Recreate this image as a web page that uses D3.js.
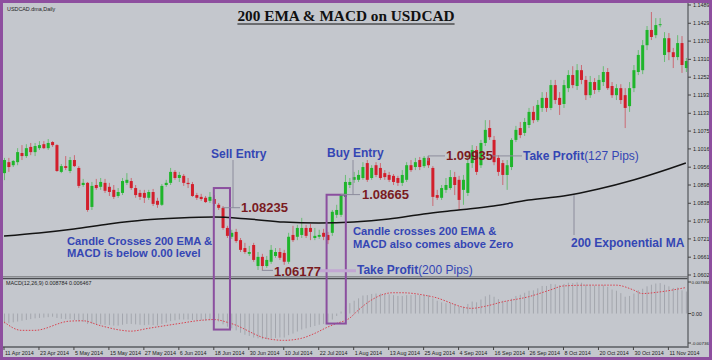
<!DOCTYPE html>
<html><head><meta charset="utf-8">
<script src="https://cdn.jsdelivr.net/npm/d3@7/dist/d3.min.js"></script>
<style>body{margin:0;background:#c4c7cd}svg{display:block}</style>
</head><body><svg id="c" width="712" height="360"></svg>
<script>
// ---------- DATA ----------
const dateLabels = ["11 Apr 2014","23 Apr 2014","5 May 2014","15 May 2014","27 May 2014","6 Jun 2014","18 Jun 2014","30 Jun 2014","10 Jul 2014","22 Jul 2014","1 Aug 2014","13 Aug 2014","25 Aug 2014","4 Sep 2014","16 Sep 2014","26 Sep 2014","8 Oct 2014","20 Oct 2014","30 Oct 2014","11 Nov 2014"];
const dateLabelEvery = 8; // one label per 8 trading days
const priceTicks = [1.14890,1.14290,1.13705,1.13105,1.12520,1.11935,1.11335,1.10750,1.10165,1.09565,1.08980,1.08380,1.07795,1.07210,1.06610,1.06025];
const macdTicks = [["0.007884",0.007884],["0.00",0],["-0.00736",-0.00736]];

const open = [
1.0937,1.0973,1.0963,1.0973,1.1003,1.0993,1.1023,1.1006,1.1019,1.1032,
1.1019,1.1039,1.1029,1.0941,1.0960,1.0944,1.0980,1.0954,1.0898,1.0905,
1.0826,1.0898,1.0892,1.0905,1.0892,1.0882,1.0862,1.0872,1.0905,1.0911,
1.0888,1.0872,1.0872,1.0856,1.0875,1.0846,1.0833,1.0898,1.0905,1.0941,
1.0921,1.0928,1.0905,1.0901,1.0865,1.0859,1.0856,1.0846,1.0852,1.0833,
1.0823,1.0757,1.0728,1.0744,1.0717,1.0691,1.0672,1.0701,1.0632,1.0662,
1.0632,1.0646,1.0665,1.0678,1.0675,1.0646,1.0734,1.0728,1.0734,1.0757,
1.0757,1.0724,1.0728,1.0741,1.0734,1.0741,1.0800,1.0800,1.0859,1.0898,
1.0915,1.0915,1.0921,1.0970,1.0921,1.0963,1.0954,1.0937,1.0931,1.0928,
1.0921,1.0905,1.0915,1.0963,1.0957,1.0980,1.0960,1.0987,1.0954,1.0865,
1.0856,1.0882,1.0888,1.0924,1.0915,1.0882,1.0872,1.0970,1.1013,1.0963,
1.1036,1.1085,1.1046,1.0987,1.0970,1.0931,1.0957,1.1046,1.1085,1.1069,
1.1095,1.1138,1.1111,1.1151,1.1184,1.1151,1.1226,1.1184,1.1164,1.1216,
1.1259,1.1223,1.1275,1.1243,1.1193,1.1236,1.1210,1.1236,1.1269,1.1223,
1.1193,1.1216,1.1193,1.1157,1.1216,1.1269,1.1275,1.1357,1.1407,1.1390,
1.1423,1.1325,1.1380,1.1334,1.1318,1.1364,1.1282];
const high = [
1.0987,1.0987,1.0980,1.1019,1.1029,1.1032,1.1036,1.1036,1.1042,1.1042,
1.1049,1.1042,1.1032,1.0967,1.0993,1.0990,1.0996,1.0960,1.0918,1.0908,
1.0908,1.0918,1.0921,1.0918,1.0905,1.0898,1.0888,1.0921,1.0937,1.0921,
1.0898,1.0882,1.0882,1.0882,1.0885,1.0856,1.0901,1.0915,1.0954,1.0947,
1.0941,1.0934,1.0921,1.0908,1.0872,1.0869,1.0862,1.0875,1.0865,1.0839,
1.0829,1.0764,1.0751,1.0754,1.0724,1.0708,1.0698,1.0708,1.0678,1.0672,
1.0665,1.0701,1.0691,1.0691,1.0685,1.0741,1.0764,1.0767,1.0790,1.0767,
1.0770,1.0757,1.0751,1.0754,1.0744,1.0816,1.0833,1.0869,1.0931,1.0921,
1.0941,1.0947,1.0973,1.0980,1.0963,1.0973,1.0970,1.0947,1.0941,1.0934,
1.0928,1.0947,1.0973,1.0980,1.0987,1.0990,1.0993,1.0993,1.0960,1.0882,
1.0898,1.0921,1.0947,1.0941,1.0928,1.0931,1.0996,1.1029,1.1026,1.1046,
1.1111,1.1111,1.1059,1.0996,1.0980,1.0980,1.1052,1.1092,1.1105,1.1118,
1.1151,1.1157,1.1177,1.1203,1.1203,1.1243,1.1243,1.1203,1.1243,1.1275,
1.1288,1.1295,1.1292,1.1256,1.1256,1.1249,1.1259,1.1288,1.1282,1.1236,
1.1229,1.1229,1.1216,1.1236,1.1292,1.1341,1.1374,1.1420,1.1466,1.1446,
1.1446,1.1400,1.1397,1.1348,1.1390,1.1387,1.1315];
const low = [
1.0914,1.0941,1.0957,1.0963,1.0980,1.0987,1.0996,1.0993,1.1013,1.1016,
1.1013,1.1023,1.0941,1.0937,1.0947,1.0937,1.0957,1.0888,1.0892,1.0810,
1.0816,1.0882,1.0882,1.0872,1.0862,1.0852,1.0856,1.0865,1.0898,1.0882,
1.0856,1.0849,1.0839,1.0849,1.0829,1.0823,1.0829,1.0892,1.0898,1.0915,
1.0908,1.0895,1.0888,1.0859,1.0849,1.0846,1.0839,1.0839,1.0829,1.0816,
1.0751,1.0724,1.0721,1.0708,1.0678,1.0672,1.0665,1.0646,1.0619,1.0618,
1.0626,1.0639,1.0659,1.0652,1.0636,1.0639,1.0711,1.0717,1.0724,1.0724,
1.0717,1.0717,1.0721,1.0717,1.0704,1.0731,1.0790,1.0793,1.0852,1.0888,
1.0905,1.0908,1.0915,1.0908,1.0915,1.0924,1.0915,1.0915,1.0908,1.0898,
1.0895,1.0895,1.0908,1.0941,1.0947,1.0947,1.0954,1.0954,1.0829,1.0849,
1.0849,1.0872,1.0882,1.0865,1.0816,1.0833,1.0862,1.0954,1.0931,1.0954,
1.1026,1.1046,1.0963,1.0928,1.0898,1.0882,1.0947,1.1039,1.1052,1.1059,
1.1085,1.1101,1.1105,1.1138,1.1138,1.1144,1.1164,1.1128,1.1151,1.1203,
1.1216,1.1210,1.1229,1.1177,1.1184,1.1197,1.1203,1.1223,1.1210,1.1184,
1.1177,1.1164,1.1085,1.1138,1.1203,1.1259,1.1262,1.1341,1.1374,1.1380,
1.1416,1.1302,1.1308,1.1282,1.1308,1.1266,1.1269];
const close = [
1.0980,1.0957,1.0977,1.1006,1.0993,1.1019,1.1006,1.1026,1.1029,1.1019,
1.1036,1.1029,1.0944,1.0960,1.0954,1.0980,1.0960,1.0895,1.0905,1.0816,
1.0895,1.0888,1.0908,1.0879,1.0875,1.0859,1.0875,1.0911,1.0915,1.0888,
1.0865,1.0859,1.0856,1.0875,1.0836,1.0833,1.0895,1.0905,1.0941,1.0921,
1.0931,1.0905,1.0901,1.0862,1.0856,1.0852,1.0842,1.0859,1.0836,1.0823,
1.0757,1.0731,1.0741,1.0714,1.0685,1.0678,1.0678,1.0652,1.0662,1.0632,
1.0652,1.0685,1.0678,1.0659,1.0646,1.0728,1.0717,1.0757,1.0757,1.0731,
1.0744,1.0731,1.0734,1.0728,1.0717,1.0810,1.0816,1.0866,1.0908,1.0908,
1.0924,1.0931,1.0957,1.0915,1.0954,1.0931,1.0921,1.0924,1.0915,1.0908,
1.0905,1.0931,1.0963,1.0947,1.0973,1.0957,1.0987,1.0963,1.0859,1.0856,
1.0888,1.0898,1.0924,1.0898,1.0849,1.0915,1.0970,1.1013,1.0941,1.1036,
1.1079,1.1055,1.0973,1.0941,1.0931,1.0963,1.1046,1.1079,1.1062,1.1105,
1.1138,1.1111,1.1161,1.1184,1.1151,1.1226,1.1177,1.1161,1.1226,1.1259,
1.1226,1.1275,1.1243,1.1193,1.1236,1.1210,1.1243,1.1269,1.1216,1.1193,
1.1216,1.1177,1.1151,1.1216,1.1275,1.1325,1.1357,1.1407,1.1384,1.1423,
1.1426,1.1380,1.1334,1.1318,1.1364,1.1292,1.1305];

// 200 EMA read at bar indices
const emaBars   = [0,8,16,24,32,40,48,56,64,72,80,88,96,104,112,120,128,136,144,152,156];
const emaValues = [1.07305,1.07404,1.07535,1.07699,1.07830,1.07896,1.07929,1.07863,1.07765,1.07732,1.07765,1.07863,1.08027,1.08159,1.08290,1.08487,1.08618,1.08848,1.09144,1.09505,1.09702];

// MACD main (histogram), per bar
const macd = [
-0.0025,-0.0024,-0.0022,-0.0020,-0.0018,-0.0016,-0.0014,-0.0012,-0.0011,-0.0010,
-0.0009,-0.0008,-0.0011,-0.0013,-0.0014,-0.0014,-0.0016,-0.0020,-0.0021,-0.0026,
-0.0026,-0.0027,-0.0027,-0.0028,-0.0029,-0.0030,-0.0030,-0.0028,-0.0026,-0.0026,
-0.0027,-0.0028,-0.0029,-0.0028,-0.0029,-0.0030,-0.0026,-0.0023,-0.0019,-0.0017,
-0.0015,-0.0015,-0.0015,-0.0016,-0.0017,-0.0017,-0.0018,-0.0017,-0.0018,-0.0020,
-0.0027,-0.0033,-0.0037,-0.0042,-0.0048,-0.0053,-0.0056,-0.0060,-0.0062,-0.0064,
-0.0064,-0.0062,-0.0061,-0.0060,-0.0060,-0.0054,-0.0050,-0.0045,-0.0040,-0.0037,
-0.0034,-0.0031,-0.0028,-0.0026,-0.0024,-0.0015,-0.0006,0.0005,0.0018,0.0026,
0.0032,0.0038,0.0045,0.0046,0.0049,0.0050,0.0050,0.0049,0.0048,0.0046,
0.0044,0.0044,0.0046,0.0046,0.0047,0.0046,0.0047,0.0046,0.0038,0.0032,
0.0028,0.0026,0.0026,0.0024,0.0018,0.0017,0.0024,0.0030,0.0028,0.0035,
0.0043,0.0047,0.0042,0.0036,0.0032,0.0031,0.0037,0.0044,0.0047,0.0052,
0.0057,0.0058,0.0063,0.0069,0.0069,0.0074,0.0073,0.0071,0.0074,0.0077,
0.0076,0.0078,0.0077,0.0072,0.0072,0.0070,0.0070,0.0071,0.0067,0.0060,
0.0057,0.0051,0.0042,0.0044,0.0050,0.0058,0.0062,0.0068,0.0072,0.0075,
0.0076,0.0072,0.0068,0.0064,0.0065,0.0058,0.0055];
// MACD signal, read at bar indices
const sigBars   = [0,4,7,15,18,22,27,29,33,40,45,48,52,60,64,68,71,74,76,79,81,83,89,91,98,107,110,114,120,125,128,134,140,144,146,150,156];
const sigValues = [-0.0021,-0.0042,-0.0042,-0.0019,-0.0018,-0.0030,-0.0042,-0.0044,-0.0037,-0.0025,-0.0017,-0.0015,-0.0025,-0.0062,-0.0067,-0.0062,-0.0050,-0.0034,-0.0025,-0.0012,0.0008,0.0026,0.0052,0.0052,0.0042,0.0013,0.0018,0.0029,0.0042,0.0059,0.0069,0.0071,0.0071,0.0059,0.0050,0.0054,0.0065];

// ---------- DRAW ----------
const svg = d3.select("#c");
const W = 712, H = 360;
const BG = "#c4c7cd", GREEN = "#1fb52b", RED = "#d21f2c", BLUE = "#3446b4", DRED = "#7a1b1f", LEAD = "#8c8c9c", BOX = "#8b4f9f";
const F = "'Liberation Sans', Arial, sans-serif";

svg.append("rect").attr("width", W).attr("height", H).attr("fill", BG);

const x = d3.scaleLinear().domain([0, 152]).range([4, 668.4]);
const y = d3.scaleLinear().domain([1.06025, 1.14890]).range([275, 5]);
const ym = d3.scaleLinear().domain([-0.00736, 0.007884]).range([343, 282]);

const defs = svg.append("defs");
defs.append("clipPath").attr("id", "cm").append("rect").attr("x", 3).attr("y", 3).attr("width", 685).attr("height", 273);
defs.append("clipPath").attr("id", "cd").append("rect").attr("x", 3).attr("y", 279).attr("width", 685).attr("height", 67);

// MACD panel
const gm = svg.append("g").attr("clip-path", "url(#cd)");
gm.selectAll("line.h").data(macd).join("line")
  .attr("x1", (d, i) => x(i) + 0.5).attr("x2", (d, i) => x(i) + 0.5)
  .attr("y1", ym(0)).attr("y2", d => ym(d))
  .attr("stroke", "#a3a6ad").attr("stroke-width", 1);
gm.append("path").datum(sigBars.map((b, k) => [b, sigValues[k]]))
  .attr("d", d3.line().x(d => x(d[0])).y(d => ym(d[1])).curve(d3.curveMonotoneX))
  .attr("fill", "none").attr("stroke", "#d9424f").attr("stroke-width", 1).attr("stroke-dasharray", "1.5,1.5");

// main panel
const g = svg.append("g").attr("clip-path", "url(#cm)");
const idx = d3.range(open.length);
g.selectAll("line.w").data(idx).join("line")
  .attr("x1", i => x(i) + 0.5).attr("x2", i => x(i) + 0.5)
  .attr("y1", i => y(high[i])).attr("y2", i => y(low[i]))
  .attr("stroke", i => close[i] >= open[i] ? GREEN : RED).attr("stroke-opacity", 0.55).attr("stroke-width", 1);
g.selectAll("rect.b").data(idx).join("rect")
  .attr("x", i => x(i) - 1).attr("width", 3)
  .attr("y", i => y(Math.max(open[i], close[i])))
  .attr("height", i => Math.max(1, Math.abs(y(open[i]) - y(close[i]))))
  .attr("fill", i => close[i] >= open[i] ? GREEN : RED);
g.append("path").datum(emaBars.map((b, k) => [b, emaValues[k]]))
  .attr("d", d3.line().x(d => x(d[0])).y(d => y(d[1])).curve(d3.curveMonotoneX))
  .attr("fill", "none").attr("stroke", "#141414").attr("stroke-width", 1.5);

// frames
svg.append("line").attr("x1", 3).attr("x2", 688).attr("y1", 276.5).attr("y2", 276.5).attr("stroke", "#8a8c90").attr("stroke-width", 1);
svg.append("line").attr("x1", 3).attr("x2", 688).attr("y1", 278.5).attr("y2", 278.5).attr("stroke", "#4a4c50").attr("stroke-width", 1.5);
svg.append("line").attr("x1", 3).attr("x2", 688).attr("y1", 347).attr("y2", 347).attr("stroke", "#5a5c60").attr("stroke-width", 1.5);
svg.append("line").attr("x1", 688).attr("x2", 688).attr("y1", 3).attr("y2", 348).attr("stroke", "#6a6c70").attr("stroke-width", 1.5);

// right price axis
const ax = svg.append("g").attr("font-family", F).attr("font-size", 5.4).attr("fill", "#1e1e1e");
priceTicks.forEach(v => {
  ax.append("line").attr("x1", 688).attr("x2", 691).attr("y1", y(v)).attr("y2", y(v)).attr("stroke", "#444");
  ax.append("text").attr("x", 693).attr("y", y(v) + 2).text(v.toFixed(5));
});
macdTicks.forEach(([t, v]) => {
  ax.append("line").attr("x1", 688).attr("x2", 691).attr("y1", ym(v)).attr("y2", ym(v)).attr("stroke", "#444");
  ax.append("text").attr("x", 691.5).attr("y", ym(v) + 2).attr("font-size", t.length > 5 ? 4.4 : 5.4).text(t);
});
// bottom date axis
dateLabels.forEach((t, k) => {
  const xx = x(k * dateLabelEvery);
  ax.append("line").attr("x1", xx).attr("x2", xx).attr("y1", 347).attr("y2", 350).attr("stroke", "#444");
  ax.append("text").attr("x", xx + 1).attr("y", 355).text(t);
});
ax.append("text").attr("x", 7).attr("y", 10.5).text("USDCAD.dma,Daily");
ax.append("text").attr("x", 6).attr("y", 285).text("MACD(12,26,9) 0.008784 0.006467");

// title
const title = svg.append("text").attr("x", 346).attr("y", 21).attr("text-anchor", "middle")
  .attr("font-family", "'Liberation Serif', 'Times New Roman', serif").attr("font-weight", "bold").attr("font-size", 15.3)
  .attr("fill", "#111").text("200 EMA & MACD on USDCAD");
const tb = title.node().getBBox();
svg.append("line").attr("x1", tb.x).attr("x2", tb.x + tb.width).attr("y1", 24).attr("y2", 24).attr("stroke", "#111").attr("stroke-width", 1);

// annotation boxes
const boxes = [{from: 48, to: 51.7, top: 1.0888, bottom: -0.0040}, {from: 73.8, to: 78.2, top: 1.0866, bottom: -0.0025}];
boxes.forEach(b => {
  svg.append("rect").attr("x", x(b.from)).attr("y", y(b.top)).attr("width", x(b.to) - x(b.from)).attr("height", ym(b.bottom) - y(b.top))
    .attr("fill", "none").attr("stroke", BOX).attr("stroke-width", 2);
});

const A = svg.append("g").attr("font-family", F).attr("font-weight", "bold");
function lead(x1, y1, x2, y2, c, w) { A.append("line").attr("x1", x1).attr("y1", y1).attr("x2", x2).attr("y2", y2).attr("stroke", c || LEAD).attr("stroke-width", w || 1); }
function txt(xx, yy, s, size, col, wt) { return A.append("text").attr("x", xx).attr("y", yy).attr("font-size", size).attr("fill", col).attr("font-weight", wt || "bold").text(s); }

// Sell entry
txt(211, 158, "Sell Entry", 12, BLUE);
lead(233, 160, 233, y(1.08235));
lead(x(50), y(1.08235), 240, y(1.08235));
txt(241, y(1.08235) + 4.5, "1.08235", 13, DRED);
// Buy entry
txt(327, 157, "Buy Entry", 12, BLUE);
lead(353, 160, 353, y(1.08665));
lead(x(77), y(1.08665), 360, y(1.08665));
txt(362, y(1.08665) + 4.5, "1.08665", 13, DRED);
// Take profit 127
lead(x(97), y(1.09935), 445, y(1.09935));
lead(x(97), y(1.09935), x(97), y(1.09935) + 5);
txt(446, y(1.09935) + 4.5, "1.09935", 13, DRED);
lead(493, y(1.09935), 522, y(1.09935));
const tp1 = txt(523, y(1.09935) + 4.5, "Take Profit", 12, BLUE);
tp1.append("tspan").attr("font-weight", "normal").text("(127 Pips)");
// Take profit 200
lead(x(59), y(1.06177), 273, y(1.06177));
lead(318, y(1.06177) + 0.5, 356, y(1.06177) + 0.5, "#c2a6d2", 3);
txt(274, y(1.06177) + 5.5, "1.06177", 13, DRED);
const tp2 = txt(357, 274, "Take Profit", 12, BLUE);
tp2.append("tspan").attr("font-weight", "normal").text("(200 Pips)");
// EMA label
lead(574, 195, 574, 235);
txt(571, 247, "200 Exponential MA", 12, BLUE);
// descriptions
txt(67, 245, "Candle Crosses 200 EMA &", 11.2, BLUE);
txt(67, 257, "MACD is below 0.00 level", 11.2, BLUE);
txt(353, 235, "Candle crosses 200 EMA &", 11.2, BLUE);
txt(353, 248, "MACD also comes above Zero", 11.2, BLUE);

// outer purple border
svg.append("rect").attr("x", 1.5).attr("y", 1.5).attr("width", 709).attr("height", 357)
  .attr("fill", "none").attr("stroke", "#8e4f9f").attr("stroke-width", 3);
</script></body></html>
